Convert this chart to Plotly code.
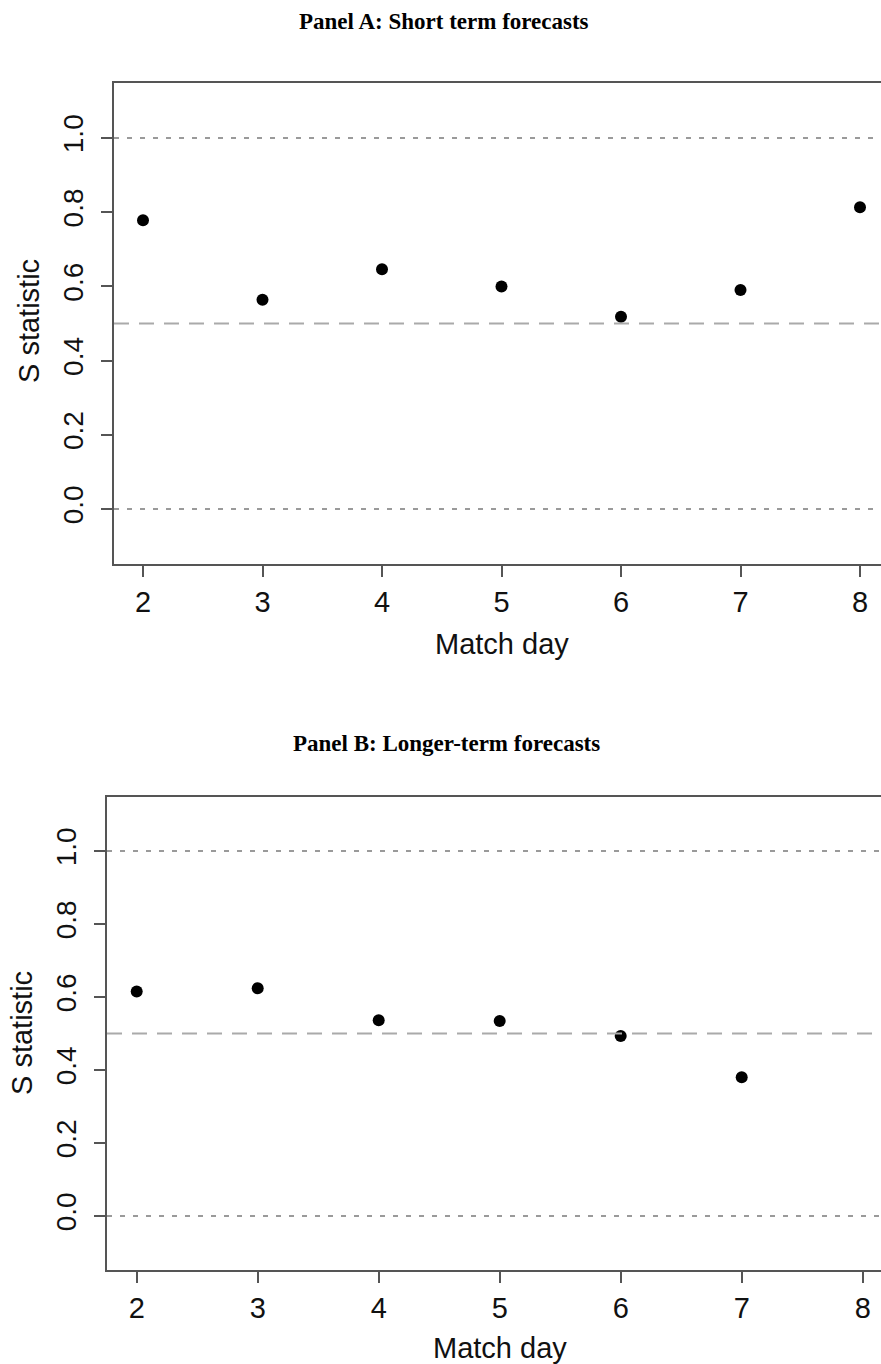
import plotly.graph_objects as go

# ---- data ----
match_days_a = [2, 3, 4, 5, 6, 7, 8]
s_stat_a = [0.778, 0.564, 0.646, 0.600, 0.518, 0.590, 0.813]

match_days_b = [2, 3, 4, 5, 6, 7]
s_stat_b = [0.615, 0.624, 0.536, 0.534, 0.493, 0.380]

ref_dotted = [0.0, 1.0]
ref_dashed = [0.5]

y_ticks = [0.0, 0.2, 0.4, 0.6, 0.8, 1.0]
y_tick_text = ["0.0", "0.2", "0.4", "0.6", "0.8", "1.0"]
x_ticks = [2, 3, 4, 5, 6, 7, 8]

W, H = 881, 1364
SANS = "Liberation Sans, Arial, Helvetica, sans-serif"
SERIF = "Liberation Serif, Times New Roman, serif"
AXC = "#555555"

fig = go.Figure()
fig.add_trace(go.Scatter(x=match_days_a, y=s_stat_a, mode="markers",
                         marker=dict(color="black", size=12),
                         xaxis="x", yaxis="y", showlegend=False))
fig.add_trace(go.Scatter(x=match_days_b, y=s_stat_b, mode="markers",
                         marker=dict(color="black", size=12),
                         xaxis="x2", yaxis="y2", showlegend=False))

def xax(domain, rng, anchor):
    return dict(domain=domain, range=rng, anchor=anchor, tickvals=x_ticks,
                ticks="outside", ticklen=11, tickwidth=1.5, tickcolor=AXC,
                showline=True, linecolor=AXC, linewidth=1.5, mirror=True,
                showgrid=False, zeroline=False,
                tickfont=dict(family=SANS, size=29, color="#111"))

def yax(domain, anchor):
    return dict(domain=domain, range=[-0.148, 1.148], anchor=anchor,
                tickvals=y_ticks, ticktext=y_tick_text, tickangle=-90,
                ticks="outside", ticklen=11, tickwidth=1.5, tickcolor=AXC,
                ticklabelstandoff=7,
                showline=True, linecolor=AXC, linewidth=1.5, mirror=False,
                showgrid=False, zeroline=False,
                tickfont=dict(family=SANS, size=28, color="#111"))

fig.update_layout(
    width=W, height=H, margin=dict(l=0, r=0, t=0, b=0),
    plot_bgcolor="white", paper_bgcolor="white",
    xaxis=xax([114 / W, 1], [2 - 29 / 119.5, 2 + (881 - 143) / 119.5], "y"),
    yaxis=yax([1 - 564 / H, 1 - 83 / H], "x"),
    xaxis2=xax([107 / W, 1], [2 - 29.7 / 121, 2 + (881 - 136.7) / 121], "y2"),
    yaxis2=yax([1 - 1270 / H, 1 - 797 / H], "x2"),
)

shapes = []
for xr, yr in [("x domain", "y"), ("x2 domain", "y2")]:
    for v in ref_dotted:
        shapes.append(dict(type="line", xref=xr, yref=yr, x0=0, x1=1, y0=v, y1=v,
                           line=dict(color="#9a9a9a", width=2, dash="5px,8px")))
    for v in ref_dashed:
        shapes.append(dict(type="line", xref=xr, yref=yr, x0=0, x1=1, y0=v, y1=v,
                           line=dict(color="#aaaaaa", width=2, dash="15px,10px")))
fig.update_layout(shapes=shapes)

ann = []
def add_text(text, x, y, font, angle=0):
    ann.append(dict(text=text, x=x / W, y=1 - y / H, xref="paper", yref="paper",
                    xanchor="center", yanchor="middle", showarrow=False,
                    textangle=angle, font=font))

add_text("<b>Panel A: Short term forecasts</b>", 444, 22, dict(family=SERIF, size=23, color="black"))
add_text("<b>Panel B: Longer-term forecasts</b>", 446, 743, dict(family=SERIF, size=23, color="black"))
add_text("Match day", 502, 644, dict(family=SANS, size=29, color="#111"))
add_text("Match day", 500, 1348, dict(family=SANS, size=29, color="#111"))
add_text("S statistic", 29, 321, dict(family=SANS, size=29, color="#111"), -90)
add_text("S statistic", 22, 1033, dict(family=SANS, size=29, color="#111"), -90)
fig.update_layout(annotations=ann)

fig.write_html("out.html")
